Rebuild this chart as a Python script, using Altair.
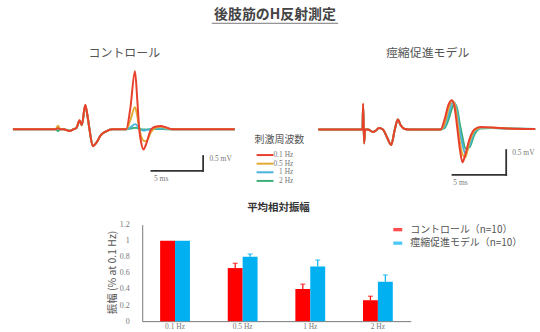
import altair as alt
import pandas as pd

JP = "Noto Sans CJK JP"
NUM = "Liberation Serif"

main_title = "後肢筋のH反射測定"
panel_titles = ["コントロール", "痙縮促進モデル"]
legend_title = "刺激周波数"
freqs = ["0.1 Hz", "0.5 Hz", "1 Hz", "2 Hz"]
freq_colors = ["#e8402c", "#e2aa35", "#4ab4dc", "#3daf7a"]

# ---- Control traces (time in ms, amplitude in mV)
ctrl_t = [0.0, 3.56, 4.13, 4.36, 4.57, 4.90, 5.48, 5.87, 6.15, 6.44, 6.66, 6.99, 7.21,
          7.40, 7.72, 8.08, 8.46, 9.01, 9.62, 10.96, 11.35, 11.80, 12.02, 12.21, 12.40,
          12.62, 12.88, 13.34, 13.75, 14.30, 14.81, 15.38, 21.45]
ctrl_01 = [0, 0, 0, 0.03, 0, 0, -0.06, 0, 0.05, 0.30, 0.14, 0.82, 0.45, 0.0, -0.57, -0.45,
           -0.22, -0.07, 0, 0, 0.70, 1.94, 1.00, 0.0, -0.45, -0.68, -0.50, -0.02, 0.08,
           0.11, 0.06, 0, 0]
ctrl_05 = [0, 0, 0, 0.12, 0, 0, -0.06, 0, 0.05, 0.30, 0.14, 0.80, 0.45, 0.0, -0.56, -0.45,
           -0.22, -0.07, 0, 0, 0.30, 0.74, 0.45, 0.05, -0.25, -0.38, -0.40, -0.10, 0.05,
           0.08, 0.04, 0, 0]
ctrl_1 = [0, 0, 0, 0.05, 0, 0, -0.05, 0, 0.05, 0.28, 0.14, 0.78, 0.45, 0.0, -0.55, -0.45,
          -0.22, -0.07, 0, 0, 0.06, 0.17, 0.12, 0.0, -0.03, -0.04, -0.03, 0.0, 0.02,
          0.03, 0.01, 0, 0]
ctrl_2 = [0, 0, 0, -0.06, 0, 0, -0.05, 0, 0.04, 0.27, 0.13, 0.78, 0.44, 0.0, -0.55, -0.44,
          -0.21, -0.07, 0, 0, 0.02, 0.05, 0.04, 0.02, 0.0, -0.01, -0.01, 0, 0.01,
          0.01, 0, 0, 0]

# ---- Spasticity model traces (time in ms, amplitude in mV)
model_t = [0.0, 3.70, 4.12, 4.18, 4.27, 4.36, 4.63, 5.09, 5.37, 5.65, 6.02, 6.39, 6.79,
           7.13, 7.41, 7.69, 8.06, 8.52, 11.39, 11.76, 12.13, 12.44, 12.69, 12.96, 13.19,
           13.43, 13.70, 14.07, 14.54, 15.09, 16.20, 17.59, 20.20]
model_01 = [0, 0, 0, 0.52, -0.28, 0, 0, -0.05, -0.02, 0.03, 0, -0.15, -0.31, 0.0, 0.20,
            0.08, 0.01, 0, 0, 0.20, 0.50, 0.59, 0.45, 0.0, -0.40, -0.66, -0.50, -0.20,
            0.0, 0.05, 0.04, 0.02, 0.01]
model_05 = [0, 0, 0, 0.52, -0.28, 0, 0, -0.05, -0.02, 0.03, 0, -0.15, -0.31, 0.0, 0.20,
            0.08, 0.01, 0, 0, 0.12, 0.42, 0.58, 0.52, 0.15, -0.25, -0.50, -0.56, -0.25,
            -0.02, 0.04, 0.04, 0.02, 0.01]
model_1 = [0, 0, 0, 0.50, -0.28, 0, 0, -0.05, -0.02, 0.03, 0, -0.15, -0.31, 0.0, 0.20,
           0.08, 0.01, 0, 0, 0.06, 0.30, 0.52, 0.55, 0.30, -0.05, -0.30, -0.48, -0.32,
           -0.05, 0.03, 0.03, 0.02, 0.01]
model_2 = [0, 0, 0, 0.50, -0.26, 0, 0, -0.05, -0.02, 0.03, 0, -0.15, -0.30, 0.0, 0.20,
           0.08, 0.01, 0, 0, 0.03, 0.20, 0.42, 0.52, 0.40, 0.10, -0.15, -0.38, -0.36,
           -0.10, 0.02, 0.03, 0.02, 0.01]

# ---- Mean relative amplitude (bar chart)
bar_title = "平均相対振幅"
bar_cats = ["0.1 Hz", "0.5 Hz", "1 Hz", "2 Hz"]
groups = ["コントロール（n=10）", "痙縮促進モデル（n=10）"]
ctrl_mean = [1.0, 0.66, 0.40, 0.26]
ctrl_err = [0.0, 0.06, 0.06, 0.05]
model_mean = [1.0, 0.80, 0.68, 0.49]
model_err = [0.0, 0.035, 0.08, 0.085]
y_title = "振幅 (% at 0.1 Hz)"

color_of = dict(zip(freqs, freq_colors))
ROW_H = 191


def trace_df(t, series):
    rows = []
    for name in reversed(freqs):  # 0.1 Hz drawn last (on top)
        for i, (tt, vv) in enumerate(zip(t, series[name])):
            rows.append({"t": tt, "v": vv, "freq": name, "color": color_of[name], "i": i})
    return pd.DataFrame(rows)


def panel(df, xdom, ydom, width, height, bar, mv_pos, ms_pos, title, title_x):
    x = alt.X("t:Q", scale=alt.Scale(domain=xdom, nice=False, zero=False), axis=None)
    y = alt.Y("v:Q", scale=alt.Scale(domain=ydom, nice=False, zero=False), axis=None)
    lines = alt.Chart(df).mark_line(strokeWidth=2, interpolate="monotone").encode(
        x=x, y=y, color=alt.Color("color:N", scale=None), order="i:Q")
    t0, t1, v0, v1 = bar
    sb_df = pd.DataFrame({"t": [t0, t1], "t2": [t1, t1], "v": [v0, v0], "v2": [v0, v1]})
    sbar = alt.Chart(sb_df).mark_rule(color="#333", strokeWidth=1.8, strokeCap="square").encode(
        x=x, x2="t2:Q", y=y, y2="v2:Q")
    mv = alt.Chart(pd.DataFrame({"t": [mv_pos[0]], "v": [mv_pos[1]], "s": ["0.5 mV"]})).mark_text(
        align="left", baseline="middle", font=NUM, fontSize=7.5, color="#777").encode(x=x, y=y, text="s:N")
    ms = alt.Chart(pd.DataFrame({"t": [ms_pos[0]], "v": [ms_pos[1]], "s": ["5 ms"]})).mark_text(
        align="center", baseline="middle", font=NUM, fontSize=7.5, color="#777").encode(x=x, y=y, text="s:N")
    ttl = alt.Chart(pd.DataFrame({"s": [title]})).mark_text(
        font=JP, fontSize=12, color="#555", baseline="middle").encode(
        x=alt.value(title_x), y=alt.value(22), text="s:N")
    return alt.layer(lines, sbar, mv, ms, ttl).properties(width=width, height=height)


left_df = trace_df(ctrl_t, {"0.1 Hz": ctrl_01, "0.5 Hz": ctrl_05, "1 Hz": ctrl_1, "2 Hz": ctrl_2})
right_df = trace_df(model_t, {"0.1 Hz": model_01, "0.5 Hz": model_05, "1 Hz": model_1, "2 Hz": model_2})

# baseline at y=99 (left, 30 px/mV) and y=99.3 (right, 50 px/mV) inside the row
left = panel(left_df, [-1.25, 21.538], [(99 - ROW_H) / 30, 99 / 30], 237, ROW_H,
             (13.39, 18.39, -1.4, -0.9), (19.0, -1.0), (14.33, -1.67), panel_titles[0], 125)
right = panel(right_df, [0, 20.37], [(99.3 - ROW_H) / 50, 99.3 / 50], 220, ROW_H,
              (12.5, 17.5, -0.914, -0.414), (18.06, -0.48), (13.24, -1.08), panel_titles[1], 110)

# middle legend for stimulus frequency (+ bar chart title below it)
leg_df = pd.DataFrame({"freq": freqs, "color": freq_colors})
ly = alt.Y("freq:N", sort=freqs, scale=alt.Scale(type="point", domain=freqs, range=[125, 151], padding=0), axis=None)
leg_lines = alt.Chart(leg_df).mark_rule(strokeWidth=2).encode(
    x=alt.value(21), x2=alt.value(38), y=ly, color=alt.Color("color:N", scale=None))
leg_text = alt.Chart(leg_df).mark_text(align="right", baseline="middle", font=NUM, fontSize=7.5, color="#777").encode(
    x=alt.value(58), y=ly, text="freq:N")
leg_ttl = alt.Chart(pd.DataFrame({"s": [legend_title]})).mark_text(
    font=JP, fontSize=10, color="#555", baseline="middle").encode(x=alt.value(44), y=alt.value(110), text="s:N")
bar_ttl = alt.Chart(pd.DataFrame({"s": [bar_title]})).mark_text(
    font=JP, fontSize=10.5, fontWeight="bold", color="#333", baseline="middle").encode(
    x=alt.value(43), y=alt.value(178), text="s:N")
legend_panel = alt.layer(leg_lines, leg_text, leg_ttl, bar_ttl).properties(width=83, height=ROW_H)

trace_row = alt.hconcat(left, legend_panel, right, spacing=0, bounds="flush")

# title row
title_src = pd.DataFrame({"s": [main_title]})
title_row = alt.layer(
    alt.Chart(title_src).mark_text(font=JP, fontSize=14, fontWeight="bold", color="#444", baseline="middle").encode(
        x=alt.value(276.5), y=alt.value(14), text="s:N"),
    alt.Chart(title_src).mark_rule(color="#777", strokeWidth=1).encode(
        x=alt.value(213), x2=alt.value(340), y=alt.value(22.5)),
).properties(width=540, height=30)

# bar chart
bar_df = pd.DataFrame({
    "freq": bar_cats * 2,
    "group": [groups[0]] * 4 + [groups[1]] * 4,
    "mean": ctrl_mean + model_mean,
    "err": ctrl_err + model_err,
})
color = alt.Color("group:N", sort=groups,
                  scale=alt.Scale(domain=groups, range=["#ff0000", "#00b0f0"]),
                  legend=alt.Legend(orient="none", legendX=395, legendY=225, title=None,
                                    symbolType="M-1,-0.37L1,-0.37L1,0.37L-1,0.37Z", symbolSize=81,
                                    symbolStrokeWidth=0, labelFont=JP, labelFontSize=10,
                                    labelColor="#555", labelOffset=7.5, rowPadding=3.6, padding=0))
xenc = alt.X("freq:N", sort=bar_cats, scale=alt.Scale(paddingInner=0.559, paddingOuter=0.265),
             axis=alt.Axis(title=None, labelAngle=0, ticks=False, domainColor="#777", labelColor="#777",
                           labelFont=NUM, labelFontSize=7.5, labelPadding=1.5))
xoff = alt.XOffset("group:N", sort=groups, scale=alt.Scale(paddingInner=0, paddingOuter=0))
yaxis = alt.Axis(values=[0, 0.2, 0.4, 0.6, 0.8, 1.0, 1.2], format="~g", grid=False, ticks=False,
                 domainColor="#777", labelColor="#777", labelFont=NUM, labelFontSize=8, labelPadding=13,
                 title=y_title, titleFont=JP, titleFontSize=10.5, titleColor="#555", titleFontWeight="normal",
                 titleX=-30, titleY=47.5, titleAlign="center", titleBaseline="middle")
yscale = alt.Scale(domain=[0, 1.2], nice=False)

bars = alt.Chart(bar_df).mark_bar().encode(
    x=xenc, xOffset=xoff, y=alt.Y("mean:Q", scale=yscale, axis=yaxis), color=color)
err_base = alt.Chart(bar_df).transform_filter("datum.err > 0").transform_calculate(hi="datum.mean + datum.err")
rules = err_base.mark_rule(strokeWidth=1.2).encode(
    x=xenc, xOffset=xoff, y=alt.Y("mean:Q", scale=yscale, axis=yaxis), y2="hi:Q", color=color)
caps = err_base.mark_tick(thickness=1.2, size=5).encode(
    x=xenc, xOffset=xoff, y=alt.Y("hi:Q", scale=yscale, axis=yaxis), color=color)

bar_chart = alt.layer(bars, rules, caps).properties(width=270, height=97)

spacer = alt.Chart(pd.DataFrame({"a": [0]})).mark_point(opacity=0).encode(
    x=alt.value(70), y=alt.value(40)).properties(width=143, height=97)

bar_row = alt.hconcat(spacer, bar_chart, spacing=0, bounds="flush")

chart = alt.vconcat(title_row, trace_row, bar_row, spacing=0).properties(
    padding=0, background="white").configure_view(stroke=None, fill="white")

chart.save("out.html", embed_options={"renderer": "svg", "actions": False})
